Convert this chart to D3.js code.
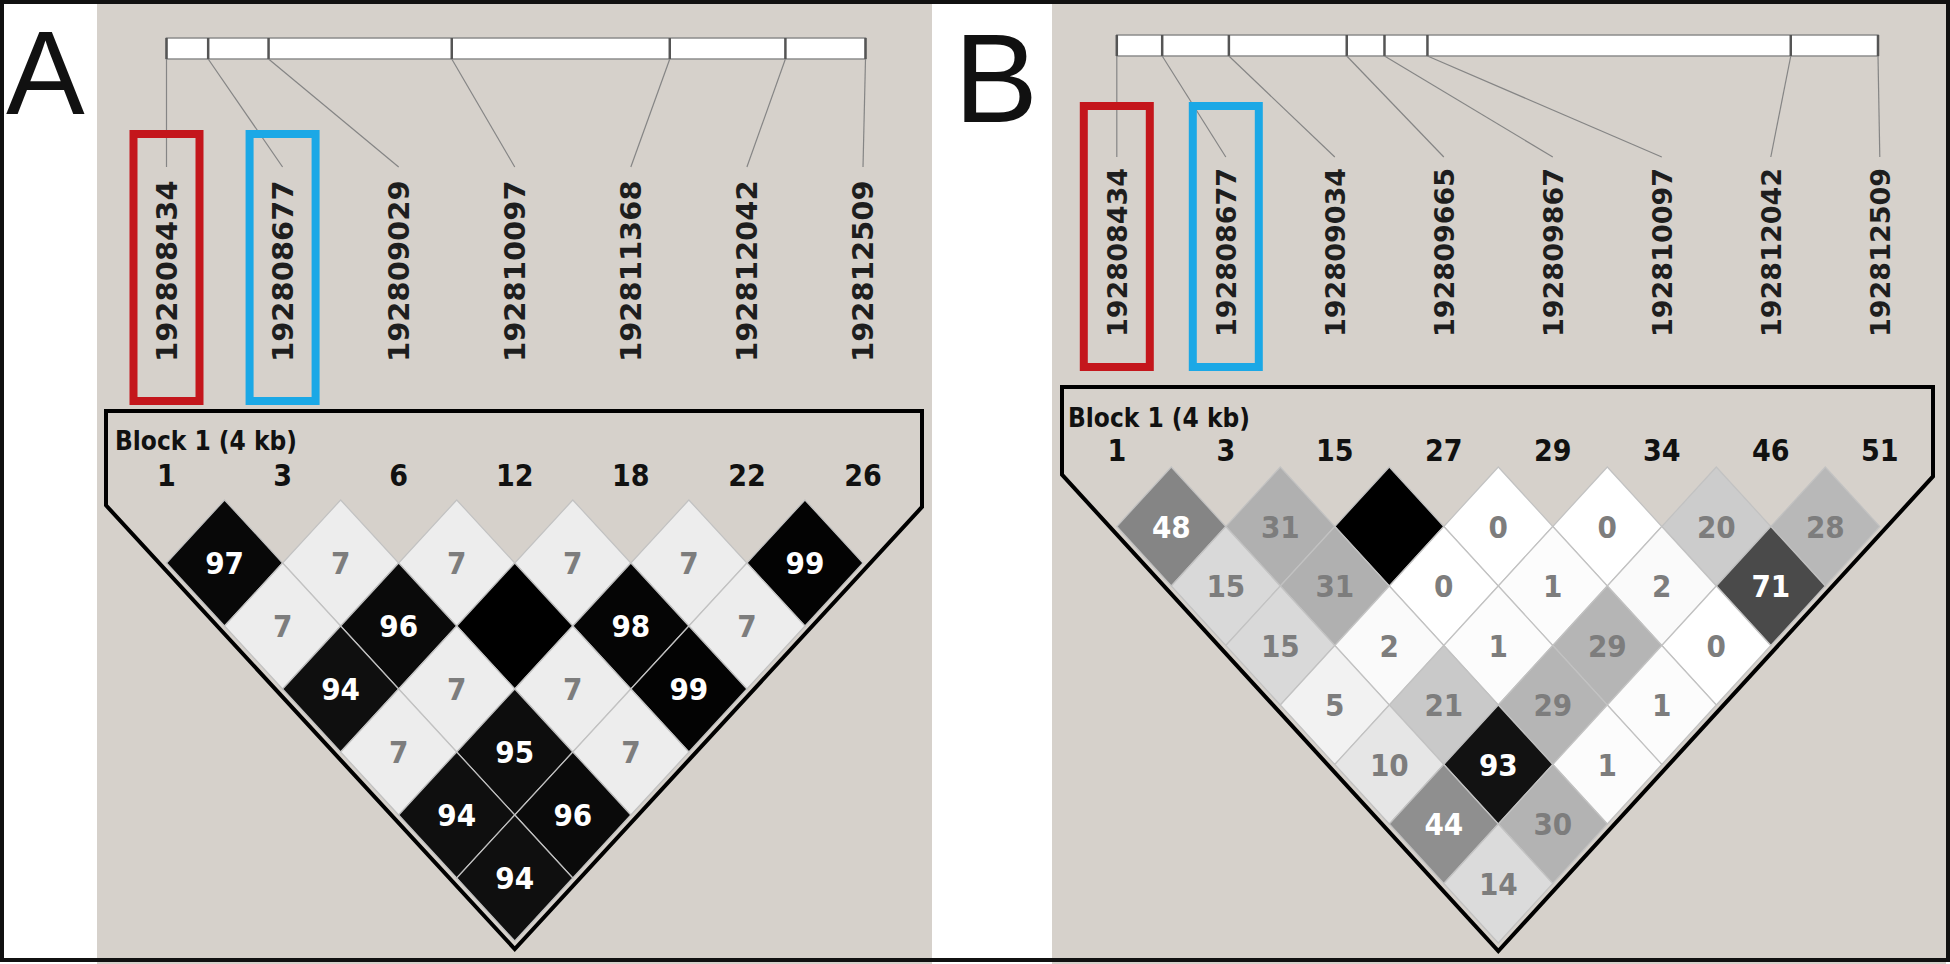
<!DOCTYPE html>
<html>
<head>
<meta charset="utf-8">
<script src="https://cdn.jsdelivr.net/npm/d3@7"></script>
<style>
  body { margin: 0; background: #fff; }
  svg { display: block; }
</style>
</head>
<body>
<svg id="chart"></svg>
<script>
// ---- data ----
// panel A
const positionsA = [192808434, 192808677, 192809029, 192810097, 192811368, 192812042, 192812509];
const blockNumbersA = [1, 3, 6, 12, 18, 22, 26];
// r2 x100 by distance between markers (row 1 = neighbours)
const ldRowsA = [
  [97, 7, 7, 7, 7, 99],
  [7, 96, 100, 98, 7],
  [94, 7, 7, 99],
  [7, 95, 7],
  [94, 96],
  [94]
];
// panel B
const positionsB = [192808434, 192808677, 192809034, 192809665, 192809867, 192810097, 192812042, 192812509];
const blockNumbersB = [1, 3, 15, 27, 29, 34, 46, 51];
const ldRowsB = [
  [48, 31, 100, 0, 0, 20, 28],
  [15, 31, 0, 1, 2, 71],
  [15, 2, 1, 29, 0],
  [5, 21, 29, 1],
  [10, 93, 1],
  [44, 30],
  [14]
];
const blockTitle = 'Block 1 (4 kb)';
const highlighted = [0, 1]; // marker indices boxed red / blue

// ---- layout ----
const width = 1950, height = 964;
const bg = '#d6d1cb';

const panels = [
  {
    letter: 'A', letterX: 6, letterY: 114, letterSize: 118,
    positions: positionsA, blockNumbers: blockNumbersA, rows: ldRowsA,
    bgX: 97, bgW: 835,
    barRange: [166.5, 865.5], barTop: 38, barBottom: 59,
    markRange: [166.5, 863], linkEnd: 167,
    labelBottom: 362, labelSize: 29,
    boxTop: 134, boxBottom: 401, boxHalf: 33,
    outlineTop: 411, outlineLeft: 106, outlineRight: 922,
    titleX: 115, titleY: 450, headerY: 486,
    cellTop: 500, halfH: 63
  },
  {
    letter: 'B', letterX: 954, letterY: 122, letterSize: 126,
    positions: positionsB, blockNumbers: blockNumbersB, rows: ldRowsB,
    bgX: 1052, bgW: 894,
    barRange: [1116.8, 1878], barTop: 35, barBottom: 56,
    markRange: [1116.8, 1879.8], linkEnd: 157,
    labelBottom: 337, labelSize: 27,
    boxTop: 106, boxBottom: 367, boxHalf: 33,
    outlineTop: 387, outlineLeft: 1062, outlineRight: 1933,
    titleX: 1068, titleY: 427, headerY: 461,
    cellTop: 467, halfH: 59.5
  }
];

const boxColors = ['#c4161c', '#1ba8e6'];
const shade = d3.scaleLinear().domain([0, 100]).range(['#ffffff', '#000000']);

const svg = d3.select('#chart').attr('width', width).attr('height', height);

svg.append('rect').attr('width', width).attr('height', height).attr('fill', '#fff');

panels.forEach((p) => {
  const g = svg.append('g');
  const n = p.positions.length;

  g.append('rect')
    .attr('x', p.bgX).attr('y', 0)
    .attr('width', p.bgW).attr('height', height)
    .attr('fill', bg);

  // physical map bar
  const xBp = d3.scaleLinear()
    .domain(d3.extent(p.positions))
    .range(p.barRange);
  const xMark = d3.scaleLinear().domain([0, n - 1]).range(p.markRange);

  g.append('rect')
    .attr('x', p.barRange[0]).attr('y', p.barTop)
    .attr('width', p.barRange[1] - p.barRange[0])
    .attr('height', p.barBottom - p.barTop)
    .attr('fill', '#fff')
    .attr('stroke', '#8c8c8c').attr('stroke-width', 1.5);

  g.selectAll('.tick')
    .data(p.positions)
    .enter()
    .append('line')
    .attr('x1', (d) => xBp(d)).attr('x2', (d) => xBp(d))
    .attr('y1', p.barTop).attr('y2', p.barBottom)
    .attr('stroke', '#555').attr('stroke-width', 2.5);

  g.selectAll('.link')
    .data(p.positions)
    .enter()
    .append('line')
    .attr('x1', (d) => xBp(d)).attr('y1', p.barBottom)
    .attr('x2', (d, i) => xMark(i)).attr('y2', p.linkEnd)
    .attr('stroke', '#858585').attr('stroke-width', 1.2);

  // marker names
  g.selectAll('.label')
    .data(p.positions)
    .enter()
    .append('text')
    .attr('transform', (d, i) => `translate(${xMark(i)}, ${p.labelBottom}) rotate(-90)`)
    .attr('dy', '0.36em')
    .attr('font-family', 'DejaVu Sans')
    .attr('font-weight', 'bold')
    .attr('font-size', p.labelSize)
    .attr('fill', '#1e1e1e')
    .text((d) => d);

  // highlight boxes
  g.selectAll('.hbox')
    .data(highlighted)
    .enter()
    .append('rect')
    .attr('x', (d) => xMark(d) - p.boxHalf)
    .attr('y', p.boxTop)
    .attr('width', p.boxHalf * 2)
    .attr('height', p.boxBottom - p.boxTop)
    .attr('fill', 'none')
    .attr('stroke', (d, i) => boxColors[i])
    .attr('stroke-width', 8);

  // LD cells
  const halfW = (xMark(1) - xMark(0)) / 2;
  const yDist = d3.scaleLinear().domain([0, 1]).range([p.cellTop, p.cellTop + p.halfH]);
  const cells = [];
  p.rows.forEach((row, r) => {
    row.forEach((v, k) => cells.push({ i: k, j: k + r + 1, v }));
  });

  const cellG = g.selectAll('.cell')
    .data(cells)
    .enter()
    .append('g')
    .attr('transform', (d) => `translate(${xMark((d.i + d.j) / 2)}, ${yDist(d.j - d.i)})`);

  cellG.append('path')
    .attr('d', `M0,${-p.halfH}L${halfW},0L0,${p.halfH}L${-halfW},0Z`)
    .attr('fill', (d) => shade(d.v))
    .attr('stroke', '#c2c2c2')
    .attr('stroke-width', 1.2);

  cellG.filter((d) => d.v < 100)
    .append('text')
    .attr('text-anchor', 'middle')
    .attr('dy', '0.36em')
    .attr('font-family', 'DejaVu Sans Condensed')
    .attr('font-weight', 'bold')
    .attr('font-size', 31)
    .attr('fill', (d) => (d.v >= 40 ? '#fff' : '#7d7d7d'))
    .text((d) => d.v);

  // block outline
  const slope = p.halfH / halfW;
  const dv = 8;
  const x0 = xMark(0), xn = xMark(n - 1);
  const edgeY0 = p.cellTop + p.halfH + dv;
  const yLeft = edgeY0 - (x0 - p.outlineLeft) * slope;
  const yRight = edgeY0 - (p.outlineRight - xn) * slope;
  const apex = [(x0 + xn) / 2, p.cellTop + n * p.halfH + dv];
  const outline = [
    [p.outlineLeft, p.outlineTop], [p.outlineRight, p.outlineTop],
    [p.outlineRight, yRight], apex, [p.outlineLeft, yLeft]
  ];
  g.append('path')
    .attr('d', d3.line()(outline) + 'Z')
    .attr('fill', 'none')
    .attr('stroke', '#000')
    .attr('stroke-width', 4)
    .attr('stroke-linejoin', 'miter');

  g.append('text')
    .attr('x', p.titleX).attr('y', p.titleY)
    .attr('font-family', 'DejaVu Sans Condensed')
    .attr('font-weight', 'bold')
    .attr('font-size', 26)
    .attr('fill', '#111')
    .text(blockTitle);

  g.selectAll('.num')
    .data(p.blockNumbers)
    .enter()
    .append('text')
    .attr('x', (d, i) => xMark(i)).attr('y', p.headerY)
    .attr('text-anchor', 'middle')
    .attr('font-family', 'DejaVu Sans Condensed')
    .attr('font-weight', 'bold')
    .attr('font-size', 30)
    .attr('fill', '#111')
    .text((d) => d);

  // panel letter
  svg.append('text')
    .attr('x', p.letterX).attr('y', p.letterY)
    .attr('font-family', 'Liberation Sans')
    .attr('font-size', p.letterSize)
    .attr('fill', '#111')
    .text(p.letter);
});

// outer frame
svg.append('rect')
  .attr('x', 2).attr('y', 2)
  .attr('width', width - 4).attr('height', height - 6)
  .attr('fill', 'none')
  .attr('stroke', '#111')
  .attr('stroke-width', 4);
</script>
</body>
</html>
